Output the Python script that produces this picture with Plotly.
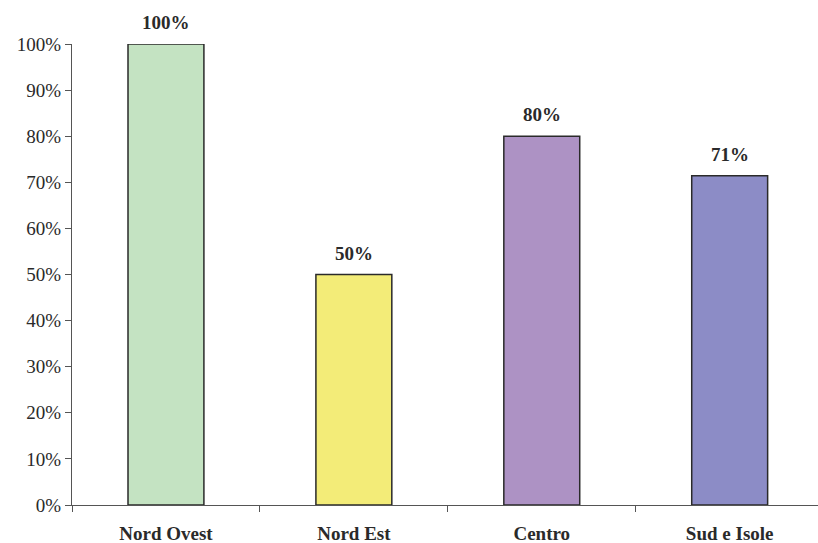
import plotly.graph_objects as go

regions = ["Nord Ovest", "Nord Est", "Centro", "Sud e Isole"]
shares = [100, 50, 80, 71.4]
bar_colors = ["#C4E3C2", "#F3EC78", "#AD92C4", "#8C8CC6"]
y_ticks = list(range(0, 101, 10))
y_tick_labels = [f"{v}%" for v in y_ticks]

serif = "Liberation Serif, Times New Roman, serif"
ink = "#2a2a2a"

fig = go.Figure(
    go.Bar(
        x=regions,
        y=shares,
        width=0.404,
        marker=dict(color=bar_colors, line=dict(color=ink, width=1.5)),
        hoverinfo="skip",
    )
)

# value labels above each bar
for r, v in zip(regions, shares):
    fig.add_annotation(
        x=r, y=v, text=f"<b>{v:.0f}%</b>", showarrow=False,
        yanchor="bottom", yshift=9,
        font=dict(family=serif, size=19, color=ink),
    )

fig.update_layout(
    width=818, height=543,
    margin=dict(l=72, r=0, t=44, b=38),
    paper_bgcolor="white", plot_bgcolor="white",
    showlegend=False,
    font=dict(family=serif, size=18, color=ink),
)
fig.update_xaxes(
    type="category", range=[-0.5, 3.47], automargin=False,
    showline=True, linecolor="#555", linewidth=1,
    ticks="outside", tickson="boundaries", ticklen=6, tickcolor="#555",
    showgrid=False,
    tickprefix="<b>", ticksuffix="</b>",
    tickfont=dict(family=serif, size=19, color=ink),
    ticklabelstandoff=11,
)
fig.update_yaxes(
    range=[0, 100], tickvals=y_ticks, ticktext=y_tick_labels, automargin=False,
    showline=True, linecolor="#555", linewidth=1,
    ticks="outside", ticklen=6, tickcolor="#555",
    showgrid=False, zeroline=False,
    tickfont=dict(family=serif, size=19, color=ink),
)

fig.write_html("out.html")
